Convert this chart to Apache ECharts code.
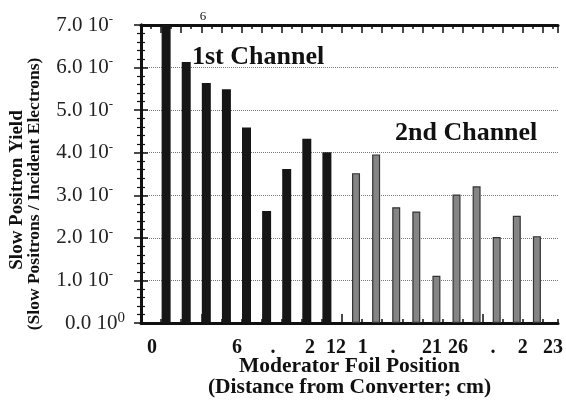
<!DOCTYPE html>
<html>
<head>
<meta charset="utf-8">
<script src="https://cdn.jsdelivr.net/npm/echarts@6/dist/echarts.min.js"></script>
<style>
  html, body { margin: 0; padding: 0; background: #fff; }
  #chart { width: 566px; height: 404px; }
</style>
</head>
<body>
<div id="chart"></div>
<script>
// Foil positions along the beam axis (in tick units) and measured yields (x 10^-6)
const channel1Pos = [1.25, 2.25, 3.25, 4.25, 5.25, 6.25, 7.25, 8.25, 9.25];
const channel1Yield = [7.0, 6.13, 5.64, 5.49, 4.59, 2.63, 3.62, 4.33, 4.01];
const channel2Pos = [10.7, 11.7, 12.7, 13.7, 14.7, 15.7, 16.7, 17.7, 18.7, 19.7];
const channel2Yield = [3.52, 3.96, 2.72, 2.62, 1.11, 3.02, 3.21, 2.02, 2.52, 2.04];

// Bottom axis labels and where they sit
const xLabelPos = [0.55, 4.78, 6.57, 8.41, 9.7, 11.04, 12.54, 14.48, 15.77, 17.51, 19.0, 20.5];
const xLabelText = ['0', '6', '.', '2', '12', '1', '.', '21', '26', '.', '2', '23'];

// Left axis labels: mantissa and exponent
const yMantissa = ['0.0', '1.0', '2.0', '3.0', '4.0', '5.0', '6.0', '7.0'];
const yExponent = ['0', '-', '-', '-', '-', '-', '-', '-'];

const X_MAX = 20.75;
const SERIF = "'Liberation Serif', 'DejaVu Serif', serif";

const chart = echarts.init(document.getElementById('chart'));

const frameLine = { show: true, lineStyle: { color: '#111', width: 3 } };

chart.setOption({
  animation: false,
  backgroundColor: '#fff',
  grid: { left: 141, right: 8, top: 25, bottom: 81, containLabel: false, outerBoundsMode: 'none' },
  xAxis: [
    {
      type: 'value', position: 'bottom', min: 0, max: X_MAX, interval: 1,
      axisLine: frameLine,
      axisTick: { show: true, inside: true, length: 4, lineStyle: { color: '#111', width: 1.5 } },
      splitLine: { show: false },
      axisLabel: {
        customValues: xLabelPos,
        margin: 15,
        fontFamily: SERIF, fontWeight: 'bold', fontSize: 20, color: '#111',
        formatter: function (v) {
          let best = 0;
          for (let i = 0; i < xLabelPos.length; i++) {
            if (Math.abs(xLabelPos[i] - v) < Math.abs(xLabelPos[best] - v)) best = i;
          }
          return xLabelText[best];
        }
      },
      name: 'Moderator Foil Position\n(Distance from Converter; cm)',
      nameLocation: 'middle', nameGap: 33, nameMoveOverlap: false,
      nameTextStyle: { fontFamily: SERIF, fontWeight: 'bold', fontSize: 21.5, lineHeight: 21, color: '#111' }
    },
    {
      type: 'value', position: 'bottom', min: 0, max: X_MAX,
      axisLine: { show: false },
      axisTick: { show: true, inside: true, length: 9, customValues: [3, 10, 17], lineStyle: { color: '#111', width: 1.5 } },
      axisLabel: { show: false },
      splitLine: { show: false }
    },
    {
      type: 'value', position: 'top', min: 0, max: X_MAX, interval: 1,
      axisLine: frameLine,
      axisTick: { show: true, inside: true, length: 8, lineStyle: { color: '#111', width: 1.5 } },
      minorTick: { show: true, splitNumber: 2, length: 4, lineStyle: { color: '#111', width: 1.5 } },
      axisLabel: { show: false },
      splitLine: { show: false }
    }
  ],
  yAxis: [
    {
      type: 'value', position: 'left', min: 0, max: 7, interval: 1,
      axisLine: frameLine,
      axisTick: { show: true, inside: true, length: 7, lineStyle: { color: '#111', width: 1.5 } },
      minorTick: { show: true, splitNumber: 5, length: 4, lineStyle: { color: '#111', width: 1.2 } },
      splitLine: { show: true, lineStyle: { color: '#777', type: 'dotted', width: 1 } },
      axisLabel: {
        margin: 16,
        formatter: function (v) {
          const i = Math.round(v);
          if (yExponent[i] === '0') return '{n|' + yMantissa[i] + ' 10}{z|' + yExponent[i] + '}';
          return '{n|' + yMantissa[i] + ' 10}{s|' + yExponent[i] + '}{p|}';
        },
        rich: {
          n: { fontFamily: SERIF, fontSize: 21, color: '#222', lineHeight: 24 },
          z: { fontFamily: SERIF, fontSize: 15, color: '#222', verticalAlign: 'top', lineHeight: 14 },
          s: { fontFamily: SERIF, fontSize: 13, color: '#222', verticalAlign: 'top', lineHeight: 10 },
          p: { width: 12 }
        }
      }
    },
    {
      type: 'value', position: 'right', min: 0, max: 7, interval: 1,
      axisLine: frameLine,
      axisTick: { show: true, inside: true, length: 7, lineStyle: { color: '#111', width: 1.5 } },
      minorTick: { show: true, splitNumber: 5, length: 4, lineStyle: { color: '#111', width: 1.2 } },
      axisLabel: { show: false },
      splitLine: { show: false }
    }
  ],
  series: [
    {
      name: '1st Channel', type: 'bar', xAxisIndex: 0, yAxisIndex: 0,
      barWidth: 9,
      itemStyle: { color: '#161616' },
      data: channel1Pos.map((x, i) => [x, channel1Yield[i]])
    },
    {
      name: '2nd Channel', type: 'bar', xAxisIndex: 1, yAxisIndex: 0,
      barWidth: 8,
      itemStyle: { color: '#858585', borderColor: '#333', borderWidth: 1.2 },
      data: channel2Pos.map((x, i) => [x, channel2Yield[i]])
    }
  ],
  graphic: [
    {
      type: 'text', x: 17, y: 190, rotation: Math.PI / 2,
      style: { text: 'Slow Positron Yield', font: 'bold 19px ' + SERIF, fill: '#111', align: 'center', verticalAlign: 'middle' }
    },
    {
      type: 'text', x: 34, y: 194, rotation: Math.PI / 2,
      style: { text: '(Slow Positrons / Incident Electrons)', font: 'bold 17.5px ' + SERIF, fill: '#111', align: 'center', verticalAlign: 'middle' }
    },
    {
      type: 'text', x: 192, y: 57,
      style: { text: '1st Channel', font: 'bold 26px ' + SERIF, fill: '#111', align: 'left', verticalAlign: 'middle' }
    },
    {
      type: 'text', x: 395, y: 133,
      style: { text: '2nd Channel', font: 'bold 26px ' + SERIF, fill: '#111', align: 'left', verticalAlign: 'middle' }
    },
    {
      type: 'text', x: 203, y: 17,
      style: { text: '6', font: '13px ' + SERIF, fill: '#111', align: 'center', verticalAlign: 'middle' }
    }
  ]
});
</script>
</body>
</html>
